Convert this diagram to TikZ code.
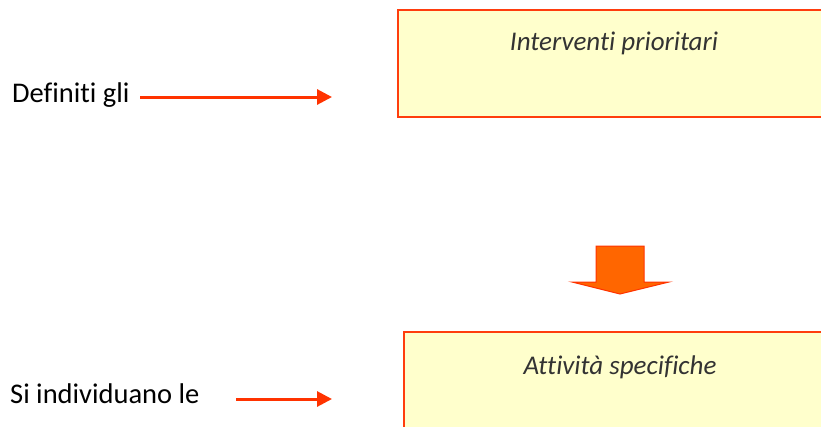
\documentclass[tikz,border=0pt]{standalone}
\usepackage{fontspec}
\setmainfont[Ligatures={NoCommon,NoContextual}]{Carlito}
\usetikzlibrary{arrows.meta}
\definecolor{boxfill}{HTML}{FFFFCC}
\definecolor{boxline}{HTML}{FF3D0D}
\definecolor{arrred}{HTML}{FF3300}
\definecolor{bigfill}{HTML}{FF6600}
\definecolor{textgray}{HTML}{333333}
\tikzset{
  panel/.style={draw=boxline, line width=2pt},
  panelfill/.style={fill=boxfill, draw=none},
  panellabel/.style={font=\fontsize{27}{30}\selectfont\itshape, text=textgray, anchor=base, inner sep=0pt},
  lefttext/.style={font=\fontsize{28.5}{31}\selectfont, text=black, anchor=base west, inner sep=0pt},
  pointer/.style={draw=arrred, line width=3pt, -{Triangle[length=15pt,width=15pt]}},
  bigarrow/.style={draw=arrred, line width=1pt, fill=bigfill, line join=miter}
}
\begin{document}
\begin{tikzpicture}[x=1pt,y=-1pt]
\useasboundingbox (0,0) rectangle (821,426);
% boxes
\fill[panelfill] (398,10) rectangle (830,117);
\draw[panel] (830,10) -- (398,10) -- (398,117) -- (830,117);
\fill[panelfill] (404,332) rectangle (830,440);
\draw[panel] (830,332) -- (404,332) -- (404,440);
\node[panellabel] (t1) at (614,50) {Interventi prioritari};
\node[panellabel] (t2) at (620,374) {Attività specifiche};
% left texts
\node[lefttext] (l1) at (12,102) {Definiti gli};
\node[lefttext] (l2) at (10,403) {Si individuano le};
\coordinate (a1s) at (140,97);
\coordinate (a1e) at (332,97);
\coordinate (a2s) at (236,399);
\coordinate (a2e) at (332,399);
\draw[pointer] (a1s) -- (a1e);
\draw[pointer] (a2s) -- (a2e);
% big down arrow
\draw[bigarrow] (596,246) -- (644,246) -- (644,282) -- (669,282) -- (620,294) -- (572,282) -- (596,282) -- cycle;
\end{tikzpicture}
\end{document}
